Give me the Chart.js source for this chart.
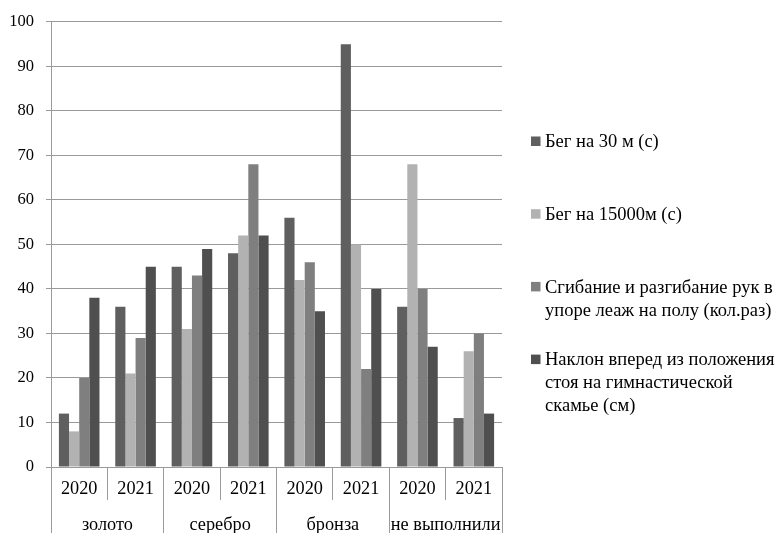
<!DOCTYPE html>
<html><head><meta charset="utf-8">
<script src="https://cdn.jsdelivr.net/npm/chart.js@4"></script>
<style>html,body{margin:0;padding:0;background:#fff;overflow:hidden;}</style>
</head><body>
<canvas id="c" width="778" height="533" style="display:block;width:778px;height:533px"></canvas>
<script>
const years = ['2020','2021','2020','2021','2020','2021','2020','2021'];
const groups = ['золото','серебро','бронза','не выполнили'];
const seriesLines = [
  ['Бег на 30 м (с)'],
  ['Бег на 15000м (с)'],
  ['Сгибание и разгибание рук в','упоре леаж на полу (кол.раз)'],
  ['Наклон вперед из положения','стоя на гимнастической','скамье (см)']
];
const run30    = [12,36,45,48,56,95,36,11];
const run15000 = [8,21,31,52,42,50,68,26];
const pushups  = [20,29,43,68,46,22,40,30];
const bend     = [38,45,49,52,35,40,27,12];
const yMin = 0, yMax = 100, yStep = 10;
const colors = ['#5f5f5f','#b2b2b2','#7f7f7f','#4f4f4f'];

const serif = '"Liberation Serif", "Times New Roman", serif';
const yFont = { family: serif, size: 16.5 };
const xFont = { family: serif, size: 18.3 };
Chart.defaults.font.family = serif;
Chart.defaults.font.size = 16;
Chart.defaults.color = '#000';

const sideLegend = {
  id: 'sideLegend',
  afterDraw(chart) {
    const ctx = chart.ctx;
    ctx.save();
    ctx.font = '18.5px ' + serif;
    ctx.textBaseline = 'middle';
    ctx.textAlign = 'left';
    const x0 = 531, y0 = 141, step = 72.7, lh = 23;
    chart.data.datasets.forEach((ds, i) => {
      const y = y0 + i * step;
      ctx.fillStyle = ds.backgroundColor;
      ctx.fillRect(x0, y - 4.5, 9.5, 9.5);
      ctx.fillStyle = '#000';
      seriesLines[i].forEach((line, j) => ctx.fillText(line, x0 + 14, y + 1.5 + j * lh));
    });
    ctx.restore();
  }
};

const series = [run30, run15000, pushups, bend];
new Chart(document.getElementById('c'), {
  type: 'bar',
  data: {
    labels: years,
    datasets: series.map((d, i) => ({
      label: seriesLines[i].join(' '),
      data: d,
      backgroundColor: colors[i],
      borderWidth: 0,
      categoryPercentage: 0.72,
      barPercentage: 1
    }))
  },
  options: {
    responsive: false,
    animation: false,
    layout: { padding: { top: 17, right: 276, left: 0, bottom: 0 } },
    plugins: { legend: { display: false }, tooltip: { enabled: false } },
    scales: {
      x: {
        type: 'category',
        position: 'bottom',
        offset: true,
        grid: { offset: true, drawOnChartArea: false, drawTicks: true, tickLength: 33, color: '#9a9a9a', lineWidth: 1 },
        border: { display: true, color: '#9a9a9a' },
        ticks: { font: xFont, padding: -22, maxRotation: 0, autoSkip: false, color: '#000' },
        afterFit: s => { s.height = 33; }
      },
      x2: {
        type: 'category',
        labels: groups,
        position: 'bottom',
        offset: true,
        grid: { offset: true, drawOnChartArea: false, drawTicks: true, tickLength: 33, color: '#9a9a9a', lineWidth: 1 },
        border: { display: false },
        ticks: { font: xFont, padding: -19, maxRotation: 0, autoSkip: false, color: '#000' },
        afterFit: s => { s.height = 33; }
      },
      y: {
        min: yMin, max: yMax,
        grid: { color: '#9a9a9a', lineWidth: 1, tickLength: 5, drawTicks: true },
        border: { display: true, color: '#9a9a9a' },
        ticks: { font: yFont, stepSize: yStep, padding: 12, color: '#000' },
        afterFit: s => { s.width = 51; }
      }
    }
  },
  plugins: [sideLegend]
});
</script>
</body></html>
